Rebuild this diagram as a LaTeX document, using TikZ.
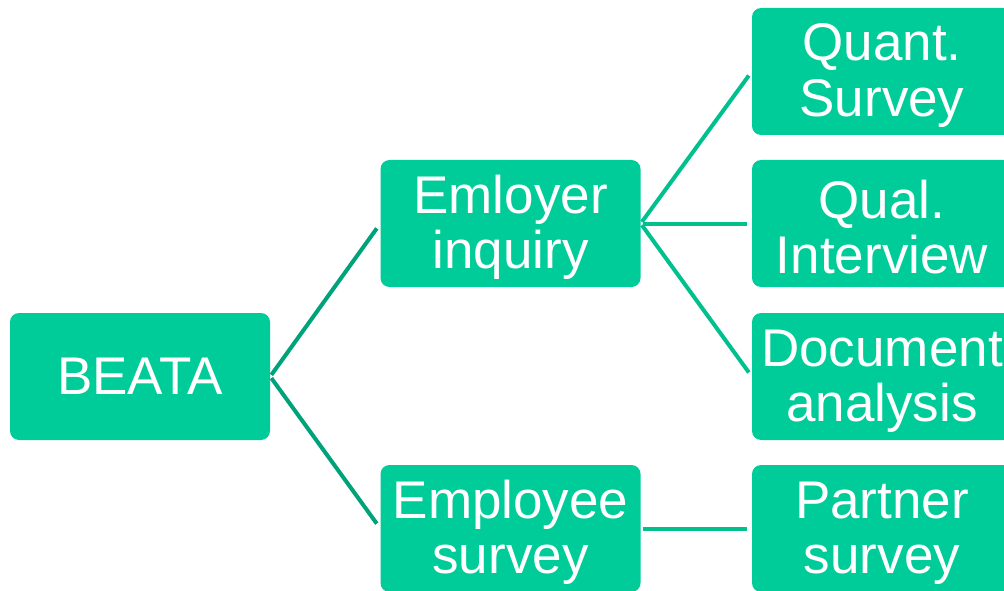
\documentclass[tikz,border=0pt]{standalone}
\usepackage{fontspec}
\setmainfont{Liberation Sans}
\usepackage{tikz}

\definecolor{boxgreen}{HTML}{00CC99}
\definecolor{linkdark}{HTML}{00A27A}
\definecolor{linklight}{HTML}{00C08E}

\newcommand{\toprule}{\rule{0pt}{45pt}}

\begin{document}
\begin{tikzpicture}[x=1pt, y=-1pt,
  box/.style={fill=boxgreen, rounded corners=9pt, minimum width=260pt, minimum height=127pt,
    inner sep=0pt, text=white, align=center, font=\fontsize{53}{55}\selectfont},
  link/.style={line width=4pt, linkdark, shorten <=2pt, shorten >=6pt},
  sublink/.style={line width=4pt, linklight, shorten <=2pt, shorten >=5pt}]
\clip (0,0) rectangle (1004,591);

\node[box](B) at (140,376.5) {BEATA};

\node[box](E1) at (510.5,223.5) {\toprule Emloyer\\inquiry};
\node[box](E2) at (510.5,528.5) {\toprule Employee\\survey};

\node[box](M1) at (882,71.5) {\toprule Quant.\\Survey};
\node[box](M2) at (882,223.5) {\toprule Qual.\\Interview};
\node[box](M3) at (882,376.5) {\toprule Document\\analysis};
\node[box](M4) at (882,528.5) {\toprule Partner\\survey};

\draw[link](B.east) to (E1.west);
\draw[link](B.east) to (E2.west);

\draw[sublink](E1.east) to (M1.west);
\draw[sublink](E1.east) to (M2.west);
\draw[sublink](E1.east) to (M3.west);
\draw[sublink](E2.east) to (M4.west);

\end{tikzpicture}
\end{document}
